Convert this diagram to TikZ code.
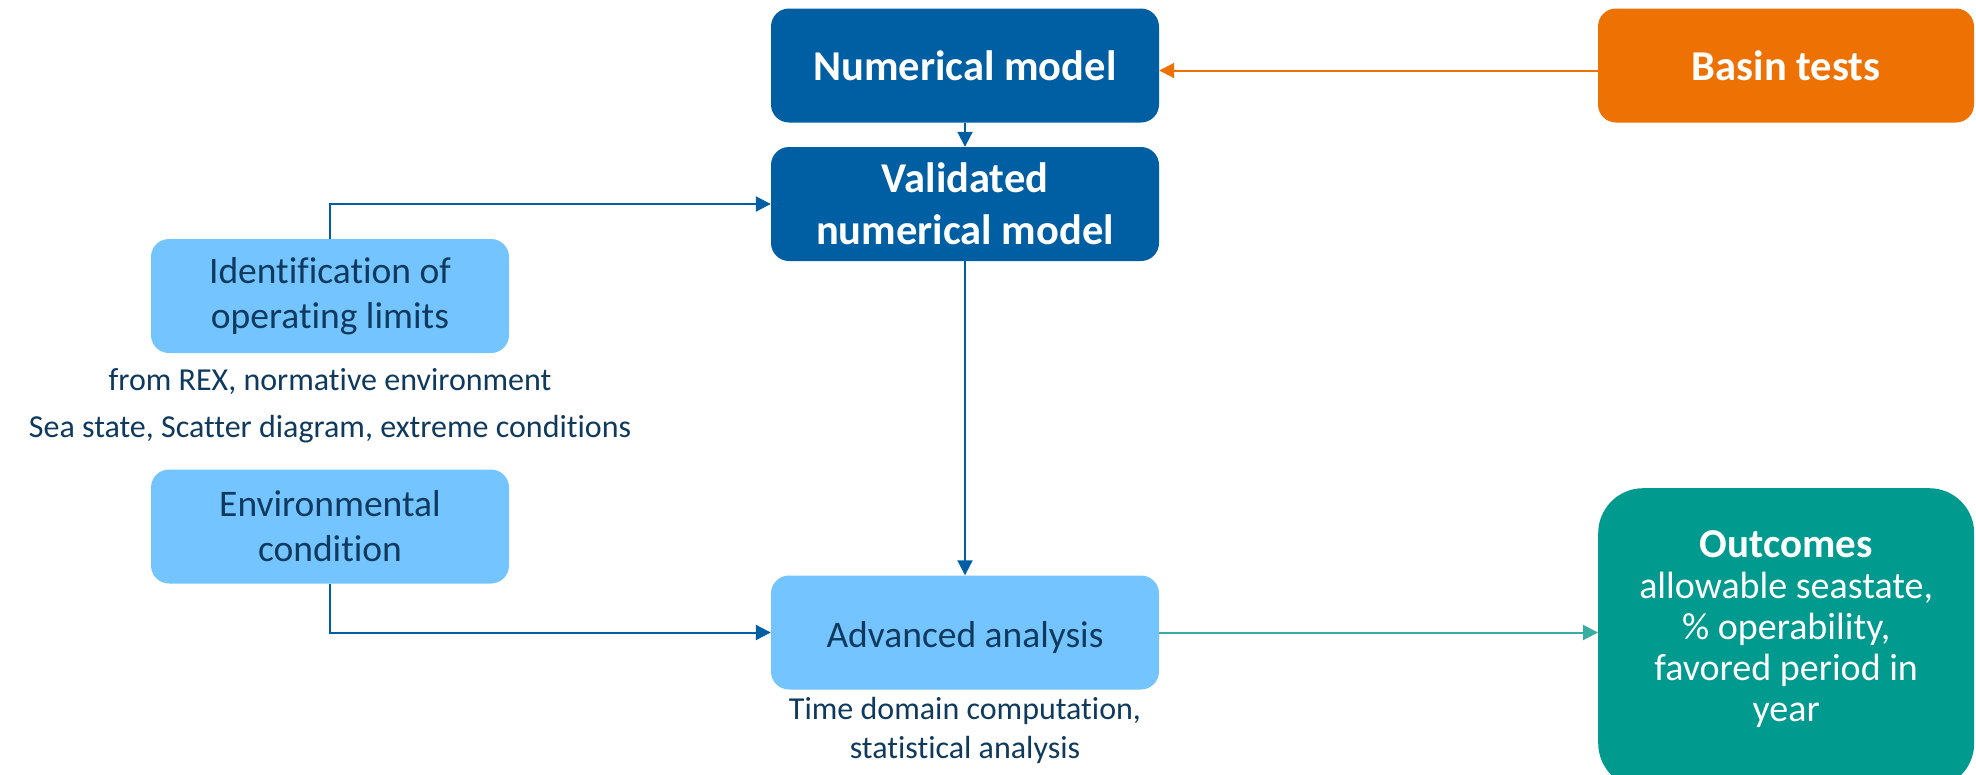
\documentclass[tikz,border=0pt]{standalone}
\usepackage{fontspec}
\setmainfont{Carlito}[Ligatures=NoCommon]
\usetikzlibrary{arrows.meta}
\definecolor{deepblue}{HTML}{005FA3}
\definecolor{skyblue}{HTML}{73C4FF}
\definecolor{basinorange}{HTML}{EE7203}
\definecolor{seateal}{HTML}{009A8F}
\definecolor{tealline}{HTML}{3AADA2}
\definecolor{inktext}{HTML}{0F3A5E}

\begin{document}
\begin{tikzpicture}[x=1pt,y=-1pt]
      \tikzstyle{rect}=[rounded corners=18pt,inner sep=0pt,align=center,minimum height=114pt]
      \tikzstyle{dark}=[rect,fill=deepblue,text=white,font=\fontsize{42.5}{52}\selectfont\bfseries,minimum width=388pt]
      \tikzstyle{light}=[rect,fill=skyblue,text=inktext,font=\fontsize{37.5}{45}\selectfont]
      \tikzstyle{note}=[text=inktext,align=center,inner sep=0pt]
      \tikzstyle{link}=[line width=2pt,-{Triangle[length=15pt,width=15pt]}]
      \useasboundingbox (0,0) rectangle (1976,774);

      \node[dark] (num) at (965,65.5) {Numerical model};
      \node[dark] (valid) at (965,204) {Validated\\numerical model};
      \node[dark,fill=basinorange,minimum width=376pt] (basin) at (1786,65.5) {Basin tests};
      \node[light,minimum width=358pt] (ident) at (330,296) {Identification of\\operating limits};
      \node[light,minimum width=358pt] (env) at (330,526.5) {Environmental\\condition};
      \node[light,minimum width=388pt] (adv) at (965,632.5) {\raisebox{-5pt}[\height][\depth]{Advanced analysis}};
      \node[rect,rounded corners=45pt,fill=seateal,text=white,anchor=north west] (outc) at (1598,488)
        {\parbox[c][300pt][t]{376pt}{\centering\fontsize{38}{41}\selectfont\vspace*{42pt}%
          {\fontsize{41}{41}\selectfont\bfseries Outcomes}\\allowable seastate,\\\% operability,\\favored period in\\year}};

      \node[note,font=\fontsize{32}{47}\selectfont] (limits) at (330,406) {from REX, normative environment\\Sea state, Scatter diagram, extreme conditions};
      \node[note,font=\fontsize{32}{39}\selectfont] (advnote) at (965,730) {Time domain computation,\\statistical analysis};

      \draw[link,basinorange] ([yshift=-5pt]basin.west) -- ([yshift=-5pt]num.east);
      \draw[link,deepblue] (num) -- (valid);
      \draw[link,deepblue] (ident.north) |- (valid.west);
      \draw[link,deepblue] (valid) -- (adv);
      \draw[link,deepblue] (env.south) |- (adv.west);
      \draw[link,tealline] (adv.east) -- (adv.east -| outc.west);
    \end{tikzpicture}
\end{document}
